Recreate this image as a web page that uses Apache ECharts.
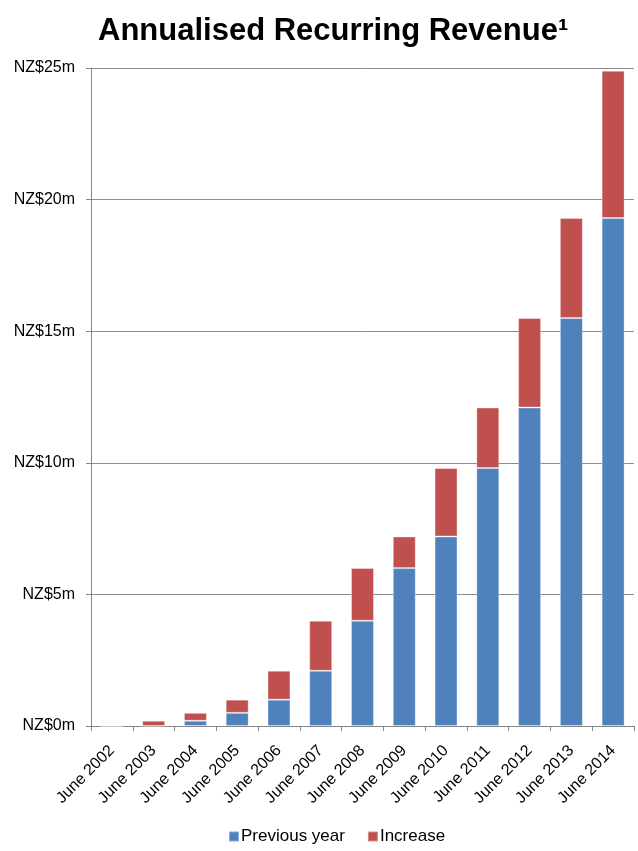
<!DOCTYPE html>
<html>
<head>
<meta charset="utf-8">
<script src="https://cdn.jsdelivr.net/npm/echarts@6/dist/echarts.min.js"></script>
<style>
  html, body { margin: 0; padding: 0; background: #fff; }
  #chart { width: 638px; height: 851px; }
</style>
</head>
<body>
<div id="chart"></div>
<script>
// categories and values (NZ$ millions)
var years = ['June 2002', 'June 2003', 'June 2004', 'June 2005', 'June 2006', 'June 2007',
  'June 2008', 'June 2009', 'June 2010', 'June 2011', 'June 2012', 'June 2013', 'June 2014']
var previousYear = [0, 0, 0.2, 0.5, 1.0, 2.1, 4.0, 6.0, 7.2, 9.8, 12.1, 15.5, 19.3]
var increase = [0, 0.2, 0.3, 0.5, 1.1, 1.9, 2.0, 1.2, 2.6, 2.3, 3.4, 3.8, 5.6]

var font = 'Liberation Sans, Arial, sans-serif'
var myChart = echarts.init(document.getElementById('chart'))

var option = {
  animation: false,
  title: {
    text: 'Annualised Recurring Revenue¹',
    left: 93,
    top: 11,
    textStyle: { fontFamily: font, fontSize: 31, fontWeight: 'bold', color: '#000' }
  },
  legend: {
    bottom: 1,
    left: 223,
    itemWidth: 10,
    itemHeight: 10,
    itemGap: 22,
    icon: 'rect',
    textStyle: { fontFamily: font, fontSize: 17, color: '#000', padding: [0, 0, 0, -3] },
    data: ['Previous year', 'Increase']
  },
  grid: { left: 91, right: 4, top: 68, bottom: 125 },
  xAxis: {
    type: 'category',
    data: years,
    axisLine: { lineStyle: { color: '#868686', width: 1 } },
    axisTick: { show: true, length: 5, lineStyle: { color: '#868686' } },
    axisLabel: { rotate: 45, fontFamily: font, fontSize: 16, color: '#000', margin: 22 }
  },
  yAxis: {
    type: 'value',
    min: 0,
    max: 25,
    interval: 5,
    axisLine: { show: true, lineStyle: { color: '#868686', width: 1 } },
    axisTick: { show: true, length: 5, lineStyle: { color: '#868686' } },
    splitLine: { lineStyle: { color: '#8c8c8c', width: 1 } },
    axisLabel: {
      fontFamily: font, fontSize: 16, color: '#000', margin: 16,
      formatter: function (v) { return 'NZ$' + v + 'm' }
    }
  },
  series: [
    {
      name: 'Previous year',
      type: 'bar',
      stack: 'arr',
      barWidth: '55%',
      data: previousYear,
      itemStyle: { color: '#4F81BD', borderColor: 'rgba(255,255,255,0.35)', borderWidth: 1 }
    },
    {
      name: 'Increase',
      type: 'bar',
      stack: 'arr',
      barWidth: '55%',
      data: increase,
      itemStyle: { color: '#C0504D', borderColor: 'rgba(255,255,255,0.35)', borderWidth: 1 }
    }
  ]
}
myChart.setOption(option)
</script>
</body>
</html>
